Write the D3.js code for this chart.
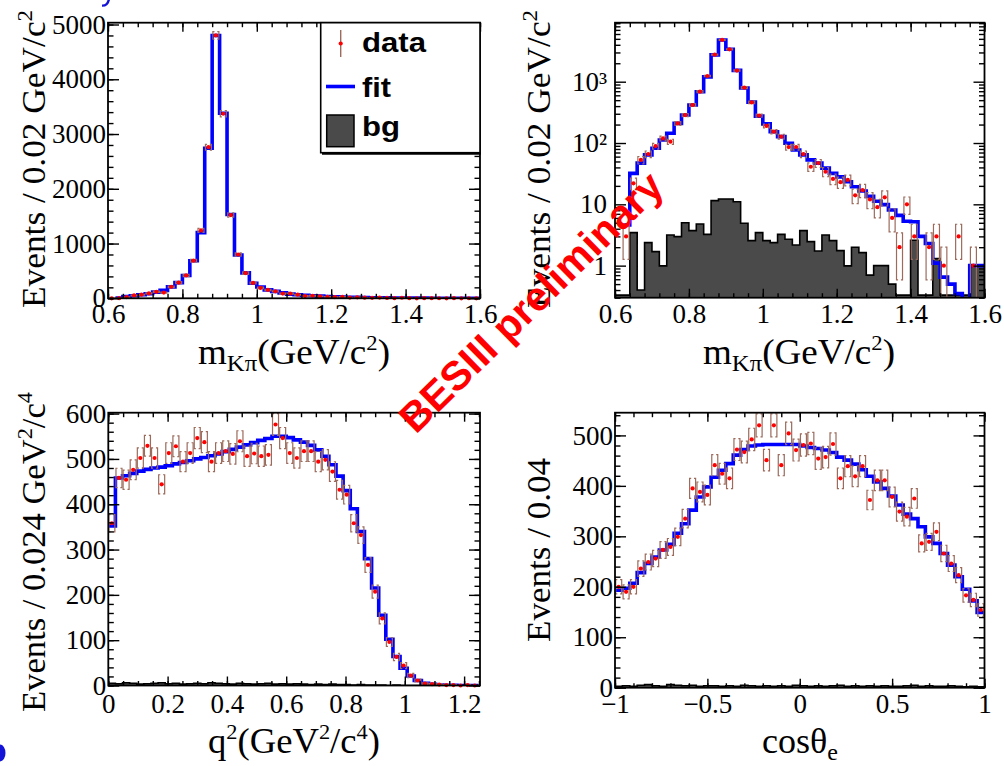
<!DOCTYPE html>
<html>
<head>
<meta charset="utf-8">
<script src="https://cdn.jsdelivr.net/npm/d3@7/dist/d3.min.js"></script>
<style>
html,body{margin:0;padding:0;background:#fff;}
svg{display:block;}
.serif{font-family:"Liberation Serif","Times New Roman",Times,serif;}
.sans{font-family:"Liberation Sans",Arial,Helvetica,sans-serif;}
</style>
</head>
<body>
<svg id="chart" width="1004" height="766" xmlns="http://www.w3.org/2000/svg"></svg>
<script>
// ---------------- DATA ----------------
// m(K pi) histogram: 50 bins of 0.02 GeV/c^2 from 0.6
const mkpBinLow = 0.6, mkpBinWidth = 0.02;
const mkpData = [0, 3, 22, 53, 66, 89, 119, 105, 209, 286, 417, 687, 1240, 2760, 4800, 3370, 1520, 800, 460, 280,
  190, 153, 127, 86, 86, 66, 41, 47, 34, 26, 23, 25, 14, 17, 12, 9, 13, 6, 2, 10,
  3, 0, 2, 3, 1, 0, 3, 0, 1, 0];
const mkpFit = [null, 4.6, 32, 47, 64, 82, 112, 144, 209, 286, 417, 687, 1200, 2740, 4800, 3380, 1530, 790, 465, 275,
  205, 153, 127, 99, 77, 64, 53, 47, 39, 32, 28, 23.4, 19.4, 16.5, 13.5, 11.2, 9.9, 8.1, 6.6, 5.3,
  5.2, 3.0, 2.3, 1.1, 0.65, 0.5, 0.35, 0.2, 1.0, 1.0];
const mkpBg = [0, 0, 3.45, 0.4, 2.37, 1.69, 0.99, 3.16, 2.97, 5.0, 3.72, 4.78, 3.24, 11.5, 12.2, 12.2, 11.0, 4.9, 2.56, 3.45,
  2.56, 2.37, 3.24, 2.69, 2.17, 3.72, 2.46, 1.73, 3.16, 2.56, 1.76, 0.99, 1.99, 1.63, 0.7, 1.0, 1.0, 0.5, 0.33, 0,
  2.6, 0, 0, 1.3, 0, 0, 0, 0, 1.0, 1.0];

// q^2 histogram: 52 bins of 0.024 GeV^2/c^4 from 0
const q2BinLow = 0, q2BinWidth = 0.024;
const q2Data = [358, 458, 454, 476, 502, 529, 502, 444, 513, 528, 494, 513, 546, 537, 494, 513, 517, 511, 539, 506,
  512, 506, 509, 576, 546, 513, 502, 517, 517, 494, 498, 472, 432, 421, 358, 332, 266, 207, 148, 96,
  63, 44, 22, 11, 4, 3, 2, 1, 1, 0, 1, 0];
const q2Fit = [352, 458, 463, 468, 473, 477, 480, 482, 485, 489, 492, 496, 500, 503, 507, 511, 516, 521, 526, 531,
  536, 541, 545, 550, 550, 547, 542, 537, 530, 520, 506, 487, 462, 430, 390, 340, 280, 215, 155, 102,
  64, 38, 21, 11, 5, 2.5, 1.2, 0.6, 0.3, 0.1, 0, 0];
const q2Bg = [5, 4, 6, 5, 3, 4, 5, 6, 4, 5, 3, 4, 5, 4, 6, 5, 4, 3, 5, 4, 3, 4, 5, 3, 4, 3, 4, 3, 2, 3,
  2, 3, 2, 2, 1, 2, 1, 1, 1, 0, 1, 0, 0, 0, 0, 0, 0, 0, 0, 0, 0, 0];

// cos(theta_e) histogram: 50 bins of 0.04 from -1
const cosBinLow = -1, cosBinWidth = 0.04;
const cosData = [200, 190, 200, 236, 249, 256, 273, 279, 299, 335, 395, 388, 382, 441, 424, 415, 472, 467, 492, 520,
  451, 520, 441, 504, 471, 481, 484, 454, 457, 483, 415, 439, 419, 439, 372, 411, 411, 378, 349, 339,
  375, 286, 289, 309, 266, 246, 223, 183, 174, 154];
const cosFit = [193, 197, 207, 228, 246, 259, 273, 284, 306, 325, 352, 378, 398, 417, 431, 444, 461, 472, 479, 481,
  482, 482, 482, 482, 482, 479, 476, 474, 471, 466, 457, 451, 443, 432, 419, 408, 395, 380, 362, 344,
  335, 319, 299, 286, 266, 243, 220, 195, 172, 149];
const cosBg = [3, 4, 3, 5, 6, 4, 3, 6, 5, 4, 5, 3, 4, 4, 3, 4, 3, 5, 4, 3, 4, 3, 4, 3, 5, 4, 3, 4, 3, 4,
  5, 3, 4, 3, 4, 3, 4, 3, 3, 4, 5, 3, 4, 3, 3, 4, 3, 2, 3, 2];

// tick values and labels
const mkpXTicks = [0.6, 0.8, 1, 1.2, 1.4, 1.6];
const mkpXLabels = ["0.6", "0.8", "1", "1.2", "1.4", "1.6"];
const mkpYTicks = [0, 1000, 2000, 3000, 4000, 5000];
const mkpYLabels = ["0", "1000", "2000", "3000", "4000", "5000"];
const logYTicks = [1, 10, 100, 1000];
const logYLabels = ["1", "10", "10\u00B2", "10\u00B3"];
const q2XTicks = [0, 0.2, 0.4, 0.6, 0.8, 1, 1.2];
const q2XLabels = ["0", "0.2", "0.4", "0.6", "0.8", "1", "1.2"];
const q2YTicks = [0, 100, 200, 300, 400, 500, 600];
const q2YLabels = ["0", "100", "200", "300", "400", "500", "600"];
const cosXTicks = [-1, -0.5, 0, 0.5, 1];
const cosXLabels = ["\u22121", "\u22120.5", "0", "0.5", "1"];
const cosYTicks = [0, 100, 200, 300, 400, 500];
const cosYLabels = ["0", "100", "200", "300", "400", "500"];
const legendLabels = ["data", "fit", "bg"];
const watermark = "BESIII preliminary";

// ---------------- DRAWING ----------------
const FS = '"Liberation Serif","Times New Roman",Times,serif';
const FSANS = '"Liberation Sans",Arial,Helvetica,sans-serif';
const BLUE = "#0000ff", RED = "#ff0000", BROWN = "#9c6b5c", GRAY = "#4a4a4a";
const svg = d3.select("#chart");
svg.append("rect").attr("width", 1004).attr("height", 766).attr("fill", "#fff");
const defs = svg.append("defs");

function drawPanel(c) {
  const x = d3.scaleLinear().domain(c.xdom).range([c.left, c.right]);
  const y = (c.log ? d3.scaleLog() : d3.scaleLinear()).domain(c.ydom).range([c.bottom, c.top]);
  const n = c.data.length;
  const edges = d3.range(n + 1).map(i => c.binLow + i * c.binW);
  const centers = d3.range(n).map(i => c.binLow + (i + 0.5) * c.binW);
  const low = c.log ? c.ydom[0] * 0.15 : c.ydom[0];
  const cl = v => Math.max(v, low);

  defs.append("clipPath").attr("id", "clip" + c.id).append("rect")
    .attr("x", c.left).attr("y", c.top).attr("width", c.right - c.left).attr("height", c.bottom - c.top);
  const plot = svg.append("g").attr("clip-path", `url(#clip${c.id})`);

  // background histogram
  if (c.bg) {
    const bmin = c.log ? c.ydom[0] * 1.1 : 0;
    const pts = c.bg.map((v, i) => [edges[i], v]).concat([[edges[n], c.bg[n - 1]]]);
    plot.append("path").datum(pts)
      .attr("d", d3.area().x(d => x(d[0])).y0(c.bottom + 2).y1(d => y(Math.max(d[1], bmin))).curve(d3.curveStepAfter))
      .attr("fill", GRAY).attr("stroke", "#000").attr("stroke-width", 1.6);
  }

  // fit histogram
  const fpts = c.fit.map((v, i) => [edges[i], v]).concat([[edges[n], c.fit[n - 1]]]);
  plot.append("path").datum(fpts)
    .attr("d", d3.line().defined(d => d[1] != null).x(d => x(d[0])).y(d => y(cl(d[1]))).curve(d3.curveStepAfter))
    .attr("fill", "none").attr("stroke", BLUE).attr("stroke-width", 3.6).attr("stroke-linejoin", "miter");

  // data points with error brackets
  const pts = c.data.map((v, i) => ({ v, cx: centers[i] })).filter(d => !c.log || d.v > 0);
  const dg = c.log ? plot.append("g") : svg.append("g");
  const bw = 3, tk = 1.6;
  dg.selectAll("path.br").data(pts).join("path").attr("class", "br")
    .attr("d", d => {
      const e = Math.sqrt(d.v);
      const px = x(d.cx), yh = y(d.v + e), yl = y(cl(d.v - e));
      return `M${px - bw + tk},${yh}H${px - bw}V${yl}H${px - bw + tk}` +
             `M${px + bw - tk},${yh}H${px + bw}V${yl}H${px + bw - tk}`;
    })
    .attr("fill", "none").attr("stroke", BROWN).attr("stroke-width", 1.2);
  dg.selectAll("circle.pt").data(pts).join("circle").attr("class", "pt")
    .attr("cx", d => x(d.cx)).attr("cy", d => y(cl(d.v))).attr("r", 2.1).attr("fill", RED);

  // axes (ROOT style: ticks inside on all four sides)
  const ax = svg.append("g");
  function addAxis(axis, tx, ty) {
    const g = ax.append("g").attr("transform", `translate(${tx},${ty})`).call(axis);
    g.select(".domain").remove();
    g.selectAll("line").attr("stroke", "#000").attr("stroke-width", 1.4);
    g.attr("font-size", 27);
    g.selectAll("text").attr("fill", "#000").attr("class", "serif").style("font-family", FS).style("font-size", "27px");
    return g;
  }
  const xt = 9, yt = 11;
  addAxis(d3.axisBottom(x).tickValues(c.xTicks).tickSize(-xt).tickPadding(c.xPad).tickFormat((d, i) => c.xLabels[i]), 0, c.bottom);
  addAxis(d3.axisBottom(x).tickValues(c.xMinor).tickSize(-xt / 2).tickFormat(""), 0, c.bottom);
  addAxis(d3.axisTop(x).tickValues(c.xTicks).tickSize(-xt).tickFormat(""), 0, c.top);
  addAxis(d3.axisTop(x).tickValues(c.xMinor).tickSize(-xt / 2).tickFormat(""), 0, c.top);
  addAxis(d3.axisLeft(y).tickValues(c.yTicks).tickSize(-yt).tickPadding(c.yPad).tickFormat((d, i) => c.yLabels[i]), c.left, 0);
  addAxis(d3.axisLeft(y).tickValues(c.yMinor).tickSize(-yt / 2).tickFormat(""), c.left, 0);
  addAxis(d3.axisRight(y).tickValues(c.yTicks).tickSize(-yt).tickFormat(""), c.right, 0);
  addAxis(d3.axisRight(y).tickValues(c.yMinor).tickSize(-yt / 2).tickFormat(""), c.right, 0);

  svg.append("rect").attr("x", c.left).attr("y", c.top).attr("width", c.right - c.left).attr("height", c.bottom - c.top)
    .attr("fill", "none").attr("stroke", "#000").attr("stroke-width", 1.8);
  return { x, y };
}

function rng(a, b, s) { const out = []; for (let v = a; v <= b + 1e-9; v += s) out.push(+v.toFixed(6)); return out; }
const logMinor = [];
[0.1, 1, 10, 100, 1000].forEach(d => { for (let k = 2; k <= 9; k++) { const v = d * k; if (v >= 0.3 && v <= 9170) logMinor.push(v); } });

// Panel 1: linear m(K pi)
drawPanel({ id: 1, left: 108, right: 480, top: 22.7, bottom: 298.3, xdom: [0.6, 1.6], ydom: [0, 5033], log: false,
  binLow: mkpBinLow, binW: mkpBinWidth, data: mkpData, fit: mkpFit, bg: null,
  xTicks: mkpXTicks, xLabels: mkpXLabels, xMinor: rng(0.6, 1.6, 0.04), xPad: 6,
  yTicks: mkpYTicks, yLabels: mkpYLabels, yMinor: rng(0, 5000, 200), yPad: 2 });

// Panel 2: log m(K pi)
drawPanel({ id: 2, left: 615, right: 984.5, top: 22.7, bottom: 297.7, xdom: [0.6, 1.6], ydom: [0.3, 9170], log: true,
  binLow: mkpBinLow, binW: mkpBinWidth, data: mkpData, fit: mkpFit, bg: mkpBg,
  xTicks: mkpXTicks, xLabels: mkpXLabels, xMinor: rng(0.6, 1.6, 0.04), xPad: 6,
  yTicks: logYTicks, yLabels: logYLabels, yMinor: logMinor, yPad: 8 });

// Panel 3: q^2
drawPanel({ id: 3, left: 108.3, right: 480, top: 412.7, bottom: 685.5, xdom: [0, 1.2536], ydom: [0, 602], log: false,
  binLow: q2BinLow, binW: q2BinWidth, data: q2Data, fit: q2Fit, bg: q2Bg,
  xTicks: q2XTicks, xLabels: q2XLabels, xMinor: rng(0, 1.25, 0.05), xPad: 8,
  yTicks: q2YTicks, yLabels: q2YLabels, yMinor: rng(0, 600, 20), yPad: 2 });

// Panel 4: cos theta_e
drawPanel({ id: 4, left: 615, right: 984.5, top: 412.7, bottom: 687.7, xdom: [-1, 1], ydom: [0, 545], log: false,
  binLow: cosBinLow, binW: cosBinWidth, data: cosData, fit: cosFit, bg: cosBg,
  xTicks: cosXTicks, xLabels: cosXLabels, xMinor: rng(-1, 1, 0.1), xPad: 6,
  yTicks: cosYTicks, yLabels: cosYLabels, yMinor: rng(0, 540, 20), yPad: 2 });

// ---------------- TITLES ----------------
function addTitle(x, y, rot, size, parts, len) {
  const t = svg.append("text").attr("transform", `translate(${x},${y}) rotate(${rot})`)
    .attr("text-anchor", "middle").attr("class", "serif").style("font-family", FS)
    .attr("font-size", size).attr("fill", "#000");
  parts.forEach(p => {
    const s = t.append("tspan").text(p.t);
    if (p.s) s.attr("font-size", p.s);
    if (p.dy) s.attr("dy", p.dy);
  });
  if (len) t.attr("textLength", len).attr("lengthAdjust", "spacingAndGlyphs");
  return t;
}
const mkpTitle = [{ t: "m" }, { t: "K\u03C0", s: 24, dy: 7 }, { t: "(GeV/c", dy: -7 }, { t: "2", s: 22, dy: -14 }, { t: ")", dy: 14 }];
addTitle(294, 364, 0, 36, mkpTitle, 192);
addTitle(799, 364, 0, 36, mkpTitle, 192);
const mkpYTitle = [{ t: "Events / 0.02 GeV/c" }, { t: "2", s: 22, dy: -13 }];
addTitle(45, 159, -90, 34, mkpYTitle, 298);
addTitle(550, 159, -90, 34, mkpYTitle, 298);
addTitle(45, 552, -90, 34, [{ t: "Events / 0.024 GeV" }, { t: "2", s: 22, dy: -13 }, { t: "/c", dy: 13 }, { t: "4", s: 22, dy: -13 }], 320);
addTitle(294, 753, 0, 36, [{ t: "q" }, { t: "2", s: 22, dy: -14 }, { t: "(GeV", dy: 14 }, { t: "2", s: 22, dy: -14 }, { t: "/c", dy: 14 }, { t: "4", s: 22, dy: -14 }, { t: ")", dy: 14 }], 172);
addTitle(550, 550, -90, 34, [{ t: "Events / 0.04" }], 184);
addTitle(800, 753, 0, 36, [{ t: "cos\u03B8" }, { t: "e", s: 24, dy: 7 }], 76);

// ---------------- LEGEND ----------------
const lg = svg.append("g");
lg.append("rect").attr("x", 320.7).attr("y", 22.7).attr("width", 159.3).attr("height", 130)
  .attr("fill", "#fff").attr("stroke", "#000").attr("stroke-width", 1.6);
lg.append("line").attr("x1", 322).attr("x2", 481).attr("y1", 153.6).attr("y2", 153.6).attr("stroke", "#000").attr("stroke-width", 2.4);
lg.append("line").attr("x1", 340.7).attr("x2", 340.7).attr("y1", 30).attr("y2", 57).attr("stroke", BROWN).attr("stroke-width", 1.4);
lg.append("circle").attr("cx", 340.7).attr("cy", 43.5).attr("r", 2.1).attr("fill", RED);
lg.append("line").attr("x1", 326).attr("x2", 355).attr("y1", 86.5).attr("y2", 86.5).attr("stroke", BLUE).attr("stroke-width", 3.6);
lg.append("rect").attr("x", 326.7).attr("y", 115).attr("width", 27.3).attr("height", 31.7)
  .attr("fill", GRAY).attr("stroke", "#000").attr("stroke-width", 1.5);
const legY = [52, 96.5, 136], legLen = [64, 29, 38];
lg.selectAll("text.leg").data(legendLabels).join("text").attr("class", "leg sans")
  .attr("x", 362).attr("y", (d, i) => legY[i]).text(d => d)
  .style("font-family", FSANS).attr("font-weight", "bold").attr("font-size", 28).attr("fill", "#000")
  .attr("textLength", (d, i) => legLen[i]).attr("lengthAdjust", "spacingAndGlyphs");

// ---------------- SLIDE FRAGMENTS ----------------
svg.append("path").attr("d", "M102,4.5 Q106,5 107.5,0 L110,0 Q108.5,7 102,6.8 Z").attr("fill", "#1414d8");
svg.append("ellipse").attr("cx", 0).attr("cy", 753).attr("rx", 5.5).attr("ry", 8.5).attr("fill", "#1414d8");

// ---------------- WATERMARK ----------------
svg.append("text").attr("transform", "translate(531,302) rotate(-44.5)")
  .attr("text-anchor", "middle").attr("dominant-baseline", "central").attr("class", "sans")
  .style("font-family", FSANS).attr("font-weight", "bold").attr("font-size", 41).attr("fill", RED)
  .text(watermark);
</script>
</body>
</html>
